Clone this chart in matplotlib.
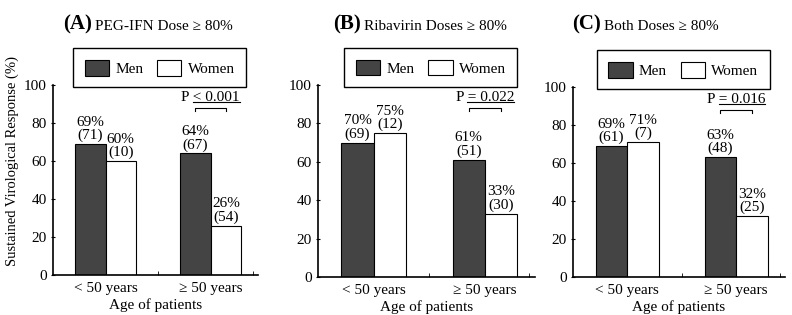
import numpy as np
import matplotlib
matplotlib.use('Agg')
import matplotlib.pyplot as plt
from matplotlib.patches import Patch
from matplotlib.lines import Line2D

plt.rcParams['font.family'] = ['Liberation Serif', 'DejaVu Serif']

''' Data '''
age_groups = ['< 50 years', '\u2265 50 years']
panel_letters = ['(A)', '(B)', '(C)']
panel_titles = ['PEG-IFN Dose \u2265 80%', 'Ribavirin Doses \u2265 80%', 'Both Doses \u2265 80%']
men_svr = [[69, 64], [70, 61], [69, 63]]
women_svr = [[60, 26], [75, 33], [71, 32]]
men_n = [[71, 67], [69, 51], [61, 48]]
women_n = [[10, 54], [12, 30], [7, 25]]
p_texts = ['P < 0.001', 'P = 0.022', 'P = 0.016']

men_color = '#444444'
women_color = 'white'
fs = 11


def draw_panel(fig, k, rect):
    ax = fig.add_axes(rect)
    x = np.arange(len(age_groups))
    width = 0.29
    ax.bar(x - width / 2, men_svr[k], width, color=men_color, edgecolor='black', linewidth=0.8)
    ax.bar(x + width / 2, women_svr[k], width, color=women_color, edgecolor='black', linewidth=0.8)

    for i in x:
        ax.text(i - width / 2, men_svr[k][i] + 1, '{}%\n({})'.format(men_svr[k][i], men_n[k][i]),
                ha='center', va='bottom', fontsize=fs, linespacing=1.0)
        ax.text(i + width / 2, women_svr[k][i] + 1, '{}%\n({})'.format(women_svr[k][i], women_n[k][i]),
                ha='center', va='bottom', fontsize=fs, linespacing=1.0)

    # p-value bracket over the >= 50 group
    x0, x1 = 1 - width / 2, 1 + width / 2
    yb = 88
    ax.plot([x0, x0, x1, x1], [yb - 1.5, yb, yb, yb - 1.5], color='black', linewidth=0.8)
    ptext = ax.text(1, yb + 2, p_texts[k], ha='center', va='bottom', fontsize=fs)

    ax.set_xlim(-0.5, 1.45)
    ax.set_ylim(0, 100)
    ax.set_yticks(np.arange(0, 101, 20))
    ax.set_xticks(x)
    ax.set_xticklabels(age_groups, fontsize=fs)
    ax.set_xticks([0.5, 1.4], minor=True)
    ax.tick_params(axis='x', which='major', length=0, pad=5)
    ax.tick_params(axis='x', which='minor', direction='in', length=3)
    ax.tick_params(axis='y', direction='inout', length=3, labelsize=fs, pad=3)
    ax.set_xlabel('Age of patients', fontsize=fs, labelpad=2)
    for side in ['top', 'right']:
        ax.spines[side].set_visible(False)
    for side in ['left', 'bottom']:
        ax.spines[side].set_linewidth(1.2)

    handles = [Patch(facecolor=men_color, edgecolor='black', linewidth=0.8, label='Men'),
               Patch(facecolor=women_color, edgecolor='black', linewidth=0.8, label='Women')]
    leg = ax.legend(handles=handles, ncol=2, loc='center', bbox_to_anchor=(0.52, 1.09),
                    fancybox=False, edgecolor='black', fontsize=fs, handlelength=1.6,
                    handleheight=1.2, handletextpad=0.4, columnspacing=0.9,
                    borderpad=0.75, borderaxespad=0, framealpha=1)
    leg.get_frame().set_linewidth(1.0)
    return ax, ptext


def underline_value(fig, ptext):
    ''' underline the part after "P" '''
    renderer = fig.canvas.get_renderer()
    bb = ptext.get_window_extent(renderer)
    probe = fig.text(0, 0, 'P ', fontsize=ptext.get_fontsize())
    pw = probe.get_window_extent(renderer).width
    probe.remove()
    W, H = fig.bbox.width, fig.bbox.height
    y = bb.y0 + 2
    fig.add_artist(Line2D([(bb.x0 + pw) / W, bb.x1 / W], [y / H, y / H],
                          transform=fig.transFigure, color='black', linewidth=0.8))


def main():
    fig = plt.figure(figsize=(7.92, 3.15), dpi=100)
    W, H = 792.0, 315.0
    rects = [[53 / W, 1 - 275 / H, 205 / W, 190 / H],
             [318 / W, 1 - 277 / H, 217 / W, 192 / H],
             [573 / W, 1 - 277 / H, 212 / W, 190 / H]]
    title_x = [92, 361, 601]
    axes = []
    ptexts = []
    for k in range(3):
        ax, ptext = draw_panel(fig, k, rects[k])
        axes.append(ax)
        ptexts.append(ptext)
        fig.text(title_x[k] / W, 1 - 24 / H, panel_letters[k], ha='right', va='center',
                 fontsize=15, fontweight='bold')
        fig.text((title_x[k] + 3) / W, 1 - 26 / H, panel_titles[k], ha='left', va='center',
                 fontsize=11)

    axes[0].set_ylabel('Sustained Virological Response (%)', fontsize=10.5)
    axes[0].yaxis.set_label_coords(-0.165, 0.6)

    fig.canvas.draw()
    for ptext in ptexts:
        underline_value(fig, ptext)

    fig.savefig('out.png', dpi=100)


if __name__ == '__main__':
    main()
